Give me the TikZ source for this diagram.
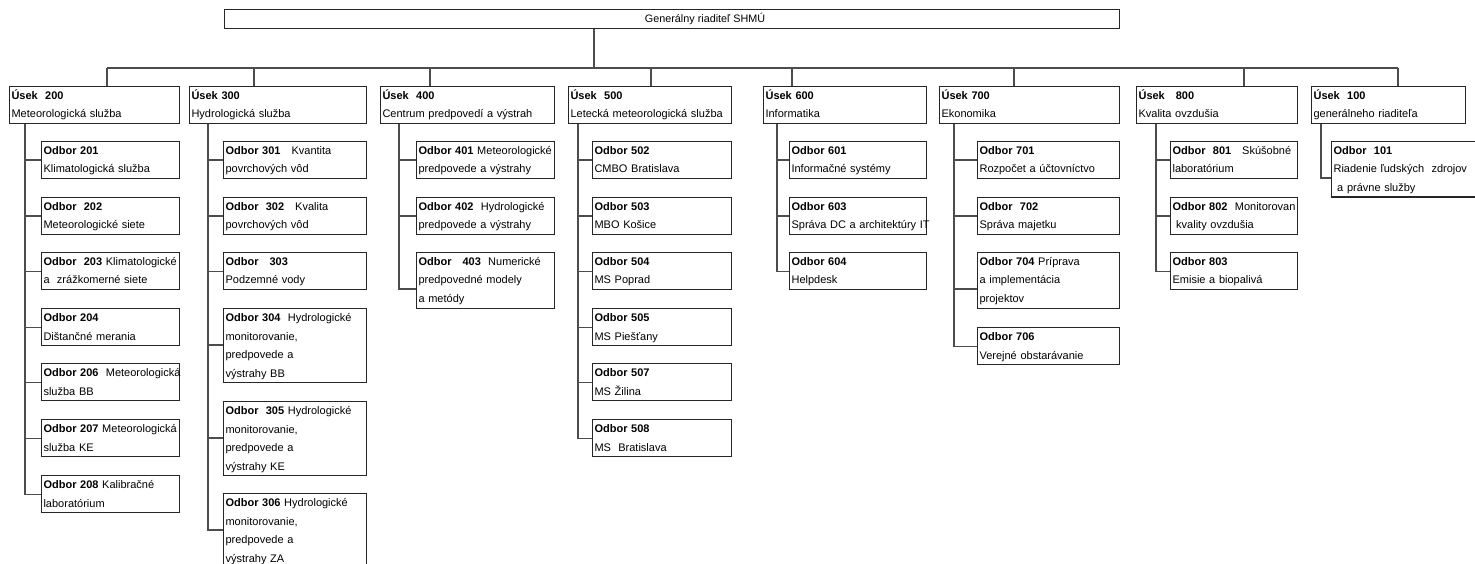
\documentclass[tikz,border=0pt]{standalone}
\usepackage{fontspec}
\setmainfont{Liberation Sans}
\definecolor{boxline}{gray}{0.15}
\definecolor{linkline}{gray}{0.3}

\begin{document}
\begin{tikzpicture}[x=1pt, y=-1pt,
  box/.style={draw=boxline, line width=1.1pt, anchor=north west, inner xsep=2pt, inner ysep=0pt,
    align=left, text width=#1, font=\fontsize{11}{18.5}\selectfont,
    execute at begin node={\hyphenpenalty=10000\exhyphenpenalty=10000\strut},
    execute at end node=\strut},
  link/.style={draw=linkline, line width=1.1pt}]
\useasboundingbox (0,0) rectangle (1475,564);
\clip (0,0) rectangle (1475,564);

% Director
\node[draw=boxline, line width=1.1pt, anchor=north west, minimum width=895pt, minimum height=19pt,
  inner sep=0pt, font=\fontsize{10.8}{12}\selectfont] (gen) at (224,9)
  {\hspace*{66pt}Generálny riaditeľ SHMÚ};

% Sections
\node[box=166pt] (u200) at (9,86) {\textbf{Úsek~~200}\\Meteorologická služba};
\node[box=173pt] (u300) at (189,86) {\textbf{Úsek~300}\\Hydrologická služba};
\node[box=170pt] (u400) at (380,86) {\textbf{Úsek~~400}\\Centrum predpovedí a výstrah};
\node[box=159pt] (u500) at (568,86) {\textbf{Úsek~~500}\\Letecká~meteorologická~služba};
\node[box=159pt] (u600) at (763,86) {\textbf{Úsek~600}\\Informatika};
\node[box=176pt] (u700) at (939,86) {\textbf{Úsek~700}\\Ekonomika};
\node[box=157pt] (u800) at (1136,86) {\textbf{Úsek~~~800}\\Kvalita ovzdušia};
\node[box=150pt] (u100) at (1311,86) {\textbf{Úsek~~100}\\generálneho riaditeľa};

% Departments 200
\node[box=134pt] (o201) at (41,141) {\textbf{Odbor~201}\\Klimatologická služba};
\node[box=134pt] (o202) at (41,197) {\textbf{Odbor~~202}\\Meteorologické siete};
\node[box=134pt] (o203) at (41,252) {\textbf{Odbor~~203}~Klimatologické\\a~~zrážkomerné siete};
\node[box=134pt] (o204) at (41,308) {\textbf{Odbor~204}\\Dištančné merania};
\node[box=134pt] (o206) at (41,363) {\textbf{Odbor~206}~~Meteorologická\\služba BB};
\node[box=134pt] (o207) at (41,419) {\textbf{Odbor~207}~Meteorologická\\služba KE};
\node[box=134pt] (o208) at (41,475) {\textbf{Odbor~208}~Kalibračné\\laboratórium};

% Departments 300
\node[box=139pt] (o301) at (223,141) {\textbf{Odbor~301}~~~Kvantita\\povrchových vôd};
\node[box=139pt] (o302) at (223,197) {\textbf{Odbor~~302}~~~Kvalita\\povrchových vôd};
\node[box=139pt] (o303) at (223,252) {\textbf{Odbor~~~303}\\Podzemné vody};
\node[box=139pt] (o304) at (223,308) {\textbf{Odbor~304}~~Hydrologické\\monitorovanie,\\predpovede a\\výstrahy BB};
\node[box=139pt] (o305) at (223,401) {\textbf{Odbor~~305}~Hydrologické\\monitorovanie,\\predpovede a\\výstrahy KE};
\node[box=139pt] (o306) at (223,493) {\textbf{Odbor~306}~Hydrologické\\monitorovanie,\\predpovede a\\výstrahy ZA};

% Departments 400
\node[box=134pt] (o401) at (416,141) {\textbf{Odbor~401}~Meteorologické\\predpovede a výstrahy};
\node[box=134pt] (o402) at (416,197) {\textbf{Odbor~402}~~Hydrologické\\predpovede a výstrahy};
\node[box=134pt] (o403) at (416,252) {\textbf{Odbor~~~403}~~Numerické\\predpovedné modely\\a metódy};

% Departments 500
\node[box=135pt] (o502) at (592,141) {\textbf{Odbor~502}\\CMBO Bratislava};
\node[box=135pt] (o503) at (592,197) {\textbf{Odbor~503}\\MBO Košice};
\node[box=135pt] (o504) at (592,252) {\textbf{Odbor~504}\\MS Poprad};
\node[box=135pt] (o505) at (592,308) {\textbf{Odbor~505}\\MS Piešťany};
\node[box=135pt] (o507) at (592,363) {\textbf{Odbor~507}\\MS Žilina};
\node[box=135pt] (o508) at (592,419) {\textbf{Odbor~508}\\MS~~Bratislava};

% Departments 600
\node[box=133pt] (o601) at (789,141) {\textbf{Odbor~601}\\Informačné systémy};
\node[box=133pt] (o603) at (789,197) {\textbf{Odbor~603}\\Správa~DC~a~architektúry~IT};
\node[box=133pt] (o604) at (789,252) {\textbf{Odbor~604}\\Helpdesk};

% Departments 700
\node[box=138pt] (o701) at (977,141) {\textbf{Odbor~701}\\Rozpočet a účtovníctvo};
\node[box=138pt] (o702) at (977,197) {\textbf{Odbor~~702}\\Správa majetku};
\node[box=138pt] (o704) at (977,252) {\textbf{Odbor~704}~Príprava\\a implementácia\\projektov};
\node[box=138pt] (o706) at (977,327) {\textbf{Odbor~706}\\Verejné obstarávanie};

% Departments 800
\node[box=123pt] (o801) at (1170,141) {\textbf{Odbor~~801}~~~Skúšobné\\laboratórium};
\node[box=123pt] (o802) at (1170,197) {\textbf{Odbor~802}~~Monitorovan\\~kvality ovzdušia};
\node[box=123pt] (o803) at (1170,252) {\textbf{Odbor~803}\\Emisie a biopalivá};

% Department 100
\node[box=146pt] (o101) at (1331,141) {\textbf{Odbor~~101}\\Riadenie ľudských~~zdrojov\\~a právne služby};

% Bus
\coordinate (top) at (594,68);
\coordinate (j200) at (107,68);
\coordinate (j300) at (254,68);
\coordinate (j400) at (430,68);
\coordinate (j500) at (651,68);
\coordinate (j600) at (792,68);
\coordinate (j700) at (1014,68);
\coordinate (j800) at (1244,68);
\coordinate (j100) at (1398,68);
\draw[link] (gen.south -| top) -- (top);
\draw[link] (j200) -- (j100);
\foreach \u in {200,300,400,500,600,700,800,100}
  \draw[link] (j\u) -- (u\u.north -| j\u);

% Trunks
\coordinate (t200) at (u200.south -| 25,0);
\coordinate (t300) at (u300.south -| 208,0);
\coordinate (t400) at (u400.south -| 399,0);
\coordinate (t500) at (u500.south -| 578,0);
\coordinate (t600) at (u600.south -| 777,0);
\coordinate (t700) at (u700.south -| 954,0);
\coordinate (t800) at (u800.south -| 1156,0);
\coordinate (t100) at (u100.south -| 1321,0);

\foreach \o in {201,202,203,204,206,207,208}
  \draw[link] (t200) |- (o\o.west);
\foreach \o in {301,302,303}
  \draw[link] (t300) |- (o\o.west);
\foreach \o in {304,305,306}
  \draw[link] (t300) |- ([yshift=-37pt]o\o.north west);
\foreach \o in {401,402}
  \draw[link] (t400) |- (o\o.west);
\draw[link] (t400) |- ([yshift=-37pt]o403.north west);
\foreach \o in {502,503,504,505,507,508}
  \draw[link] (t500) |- (o\o.west);
\foreach \o in {601,603,604}
  \draw[link] (t600) |- (o\o.west);
\foreach \o in {701,702,706}
  \draw[link] (t700) |- (o\o.west);
\draw[link] (t700) |- ([yshift=-37pt]o704.north west);
\foreach \o in {801,802,803}
  \draw[link] (t800) |- (o\o.west);
\draw[link] (t100) |- ([yshift=-37pt]o101.north west);
\end{tikzpicture}
\end{document}
